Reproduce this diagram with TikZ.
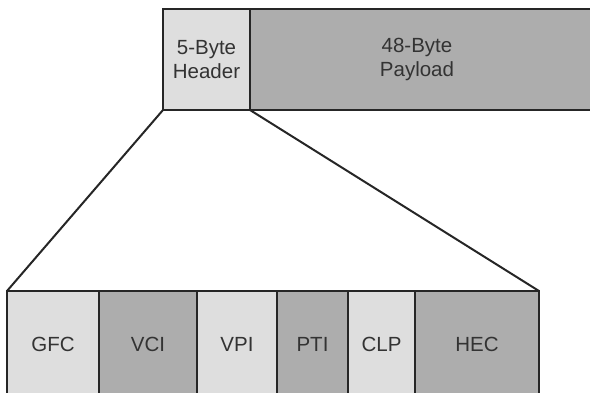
\documentclass[tikz,border=0pt]{standalone}
\usepackage{fontspec}
\setmainfont{Liberation Sans}
\begin{document}
\begin{tikzpicture}[x=1pt,y=-1pt,
  cell/.style={draw=edge, line width=2.6pt, outer sep=0pt, inner sep=0pt,
    text=ink, font=\fontsize{20.5}{24}\selectfont, align=center},
  lightcell/.style={cell, fill=paleg},
  darkcell/.style={cell, fill=midg},
  fan/.style={draw=edge, line width=2pt}]
\definecolor{paleg}{HTML}{DEDEDE}
\definecolor{midg}{HTML}{ADADAD}
\definecolor{edge}{HTML}{262626}
\definecolor{ink}{HTML}{333333}
\useasboundingbox (0,0) rectangle (590,392);
\clip (0,0) rectangle (590,392);

% ATM cell: header and payload
\node[lightcell, minimum width=87pt, minimum height=101pt] (hdr) at (206.5,59.5) {5-Byte\\Header};
\node[darkcell, minimum width=350pt, minimum height=101pt,
  label={[cell, draw=none, xshift=-8pt]center:48-Byte\\Payload}] (pay) at (425,59.5) {};

% header fields
\node[lightcell, minimum width=92pt, minimum height=106pt] (gfc) at (53,344) {GFC};
\node[darkcell,  minimum width=98pt, minimum height=106pt] (vci) at (148,344) {VCI};
\node[lightcell, minimum width=80pt, minimum height=106pt] (vpi) at (237,344) {VPI};
\node[darkcell,  minimum width=71pt, minimum height=106pt] (pti) at (312.5,344) {PTI};
\node[lightcell, minimum width=67pt, minimum height=106pt] (clp) at (381.5,344) {CLP};
\node[darkcell,  minimum width=124pt, minimum height=106pt] (hec) at (477,344) {HEC};

% expansion lines
\draw[fan] (hdr.south west) -- (gfc.north west);
\draw[fan] (hdr.south east) -- (hec.north east);
\end{tikzpicture}
\end{document}
